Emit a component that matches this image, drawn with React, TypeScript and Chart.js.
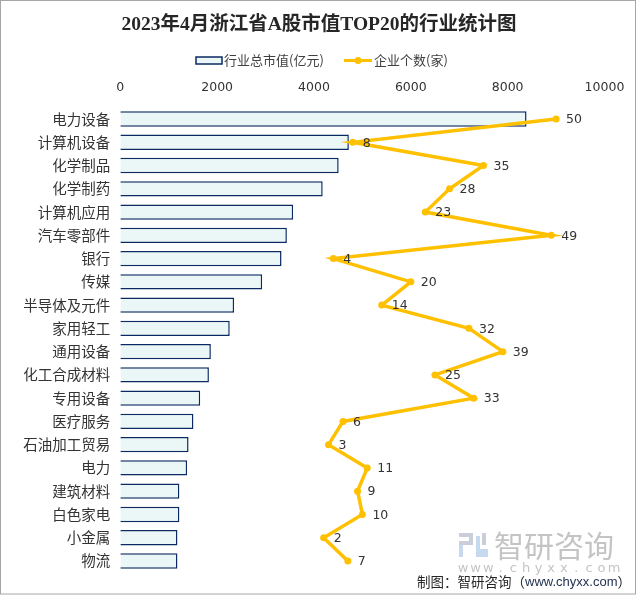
import React, { useEffect, useRef } from "react";
import { Chart, registerables } from "chart.js";

Chart.register(...registerables);

const categories = [
  "电力设备", "计算机设备", "化学制品", "化学制药", "计算机应用",
  "汽车零部件", "银行", "传媒", "半导体及元件", "家用轻工",
  "通用设备", "化工合成材料", "专用设备", "医疗服务", "石油加工贸易",
  "电力", "建筑材料", "白色家电", "小金属", "物流",
];
const marketValues = [
  8390, 4720, 4510, 4180, 3570, 3440, 3330, 2930, 2350, 2260,
  1870, 1830, 1650, 1510, 1410, 1380, 1220, 1220, 1180, 1180,
];
const companyCounts = [50, 8, 35, 28, 23, 49, 4, 20, 14, 32, 39, 25, 33, 6, 3, 11, 9, 10, 2, 7];
const xTicks = [0, 2000, 4000, 6000, 8000, 10000];

const TITLE = "2023年4月浙江省A股市值TOP20的行业统计图";
const LEGEND_BAR = "行业总市值(亿元)";
const LEGEND_LINE = "企业个数(家)";

const CJK = '"Noto Sans CJK SC", "Noto Sans", sans-serif';
const BAR_FILL = "#EBF7F7";
const BAR_BORDER = "#0B2A63";
const LINE_COLOR = "#FFC000";
const TEXT = "#333333";

const decorPlugin = {
  id: "decor",
  beforeDraw(chart: any) {
    const ctx = chart.ctx;
    ctx.save();
    ctx.fillStyle = "#ffffff";
    ctx.fillRect(0, 0, chart.width, chart.height);
    // watermark logo
    ctx.fillStyle = "#C9CED8";
    ctx.fillRect(459, 533, 14, 4);
    ctx.fillRect(469, 533, 4, 12);
    ctx.fillRect(459, 541, 14, 4);
    ctx.fillStyle = "#C5DAEE";
    ctx.fillRect(459, 545, 4, 12);
    ctx.fillRect(476, 536, 4, 13);
    ctx.fillRect(476, 549, 12, 4);
    ctx.fillRect(476, 553, 12, 4);
    ctx.fillStyle = "#C9CED8";
    ctx.fillRect(482, 533, 4, 12);
    // watermark text
    ctx.fillStyle = "#C4C4C4";
    ctx.font = `30px ${CJK}`;
    ctx.textBaseline = "middle";
    ctx.textAlign = "left";
    ctx.fillText("智研咨询", 494, 546);
    ctx.font = `13px "DejaVu Sans", sans-serif`;
    ctx.textAlign = "center";
    const wm = "www.chyxx.com";
    for (let i = 0; i < wm.length; i++) {
      ctx.fillText(wm[i], 463 + i * 12.6, 569);
    }
    ctx.restore();
  },
  afterDraw(chart: any) {
    const ctx = chart.ctx;
    ctx.save();
    // title
    ctx.fillStyle = "#262626";
    ctx.font = `bold 19.5px "Liberation Serif", "Noto Sans CJK SC", serif`;
    ctx.textAlign = "center";
    ctx.textBaseline = "middle";
    ctx.fillText(TITLE, 319, 25);
    // legend
    ctx.fillStyle = BAR_FILL;
    ctx.fillRect(196, 57, 26, 7);
    ctx.strokeStyle = BAR_BORDER;
    ctx.lineWidth = 1.5;
    ctx.strokeRect(196, 57, 26, 7);
    ctx.fillStyle = "#404040";
    ctx.font = `13px ${CJK}`;
    ctx.textAlign = "left";
    ctx.fillText(LEGEND_BAR, 224, 60.5);
    ctx.strokeStyle = LINE_COLOR;
    ctx.lineWidth = 3;
    ctx.beginPath();
    ctx.moveTo(344, 60.5);
    ctx.lineTo(372, 60.5);
    ctx.stroke();
    ctx.fillStyle = LINE_COLOR;
    ctx.beginPath();
    ctx.arc(358, 60.5, 3.5, 0, Math.PI * 2);
    ctx.fill();
    ctx.fillStyle = "#404040";
    ctx.fillText(LEGEND_LINE, 374, 60.5);
    // data labels
    const meta = chart.getDatasetMeta(0);
    ctx.font = `12.5px "DejaVu Sans", sans-serif`;
    ctx.fillStyle = TEXT;
    meta.data.forEach((p: any, i: number) => {
      ctx.fillText(String(companyCounts[i]), p.x + 10, p.y + 1);
    });
    // source
    ctx.font = `13.5px ${CJK}`;
    ctx.fillStyle = "#262626";
    ctx.textAlign = "left";
    const s1 = "制图：智研咨询（";
    ctx.fillText(s1, 417, 582);
    let x = 417 + ctx.measureText(s1).width;
    ctx.font = `13px "Liberation Sans", sans-serif`;
    ctx.fillStyle = "#22324F";
    const url = "www.chyxx.com";
    ctx.fillText(url, x, 582);
    x += ctx.measureText(url).width;
    ctx.font = `13.5px ${CJK}`;
    ctx.fillStyle = "#262626";
    ctx.fillText("）", x, 582);
    // frame
    ctx.strokeStyle = "#A6A6A6";
    ctx.lineWidth = 1;
    ctx.strokeRect(0.5, 0.5, 635, 593.5);
    ctx.restore();
  },
};

export default function App() {
  const ref = useRef<HTMLCanvasElement | null>(null);
  useEffect(() => {
    if (!ref.current) return;
    const chart = new Chart(ref.current, {
      type: "bar",
      data: {
        labels: categories,
        datasets: [
          {
            type: "line",
            label: LEGEND_LINE,
            data: companyCounts,
            xAxisID: "x2",
            yAxisID: "y",
            borderColor: LINE_COLOR,
            backgroundColor: LINE_COLOR,
            borderWidth: 3.5,
            pointRadius: 3.5,
            pointBorderWidth: 0,
            pointHoverRadius: 3.5,
            tension: 0,
            order: 0,
          } as any,
          {
            type: "bar",
            label: LEGEND_BAR,
            data: marketValues,
            xAxisID: "x",
            yAxisID: "y",
            backgroundColor: BAR_FILL,
            borderColor: BAR_BORDER,
            borderWidth: 1.5,
            barPercentage: 0.66,
            categoryPercentage: 1,
            order: 1,
          } as any,
        ],
      },
      options: {
        indexAxis: "y",
        animation: false,
        responsive: false,
        devicePixelRatio: 1,
        layout: { padding: { top: 76.4, right: 32.5, bottom: 22.4, left: 0 } },
        plugins: {
          legend: { display: false },
          title: { display: false },
          tooltip: { enabled: false },
        },
        scales: {
          x: {
            type: "linear",
            position: "top",
            min: 0,
            max: 10000,
            afterBuildTicks(scale: any) {
              scale.ticks = xTicks.map((v) => ({ value: v }));
            },
            afterFit(scale: any) {
              scale.height = 31;
            },
            grid: { display: false, drawTicks: false },
            border: { display: false },
            ticks: {
              padding: 12,
              color: TEXT,
              font: { size: 12.5, family: '"DejaVu Sans", sans-serif' },
              maxRotation: 0,
              callback: (v: any) => String(v),
            },
          },
          x2: {
            type: "linear",
            position: "top",
            display: false,
            min: -40,
            max: 60,
          },
          y: {
            type: "category",
            afterFit(scale: any) {
              scale.width = 120.3;
            },
            grid: { display: false, drawTicks: false },
            border: { display: false },
            ticks: {
              padding: 10,
              color: TEXT,
              autoSkip: false,
              font: { size: 14.5, family: CJK },
            },
          },
        },
      } as any,
      plugins: [decorPlugin],
    });
    return () => chart.destroy();
  }, []);
  return (
    <div style={{ position: "fixed", left: 0, top: 0, width: 637, height: 595 }}>
      <canvas ref={ref} width={637} height={595} style={{ display: "block" }} />
    </div>
  );
}
